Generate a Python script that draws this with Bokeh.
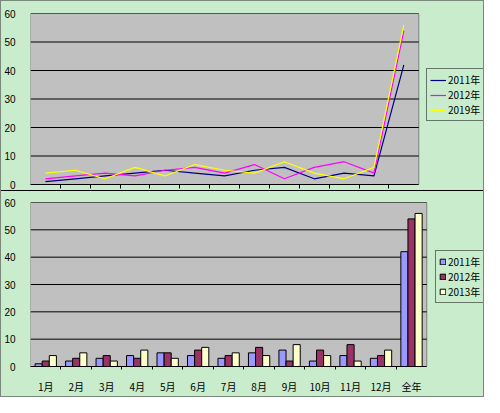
from bokeh.plotting import figure
from bokeh.models import Range1d, FixedTicker, Legend, LegendItem
from bokeh.layouts import column
from bokeh.embed import file_html
from bokeh.resources import INLINE

# ---- data ----
months = ["1月", "2月", "3月", "4月", "5月", "6月", "7月", "8月", "9月", "10月", "11月", "12月", "全年"]
s2011 = [1, 2, 3, 4, 5, 4, 3, 5, 6, 2, 4, 3, 42]
s2012 = [2, 3, 4, 3, 5, 6, 4, 7, 2, 6, 8, 4, 54]
s2013 = [4, 5, 2, 6, 3, 7, 5, 4, 8, 4, 2, 6, 56]
line_labels = ["2011年", "2012年", "2019年"]
bar_labels = ["2011年", "2012年", "2013年"]
y_ticks = [0, 10, 20, 30, 40, 50, 60]

BG = "#C8ECCC"
PLOT_BG = "#C0C0C0"
CJK = "Noto Sans CJK SC"
n = len(months)
y_max = y_ticks[-1]
centers = [i + 0.5 for i in range(n)]
bounds = list(range(1, n))
FIG_W = 482
LEFT = 27


def base(height, mt, mb, data_w):
    frame_w = FIG_W - LEFT
    x_max = n * frame_w / data_w
    p = figure(width=FIG_W, height=height, output_backend="svg", toolbar_location=None,
               x_range=Range1d(0, x_max), y_range=Range1d(0, y_max),
               min_border_left=LEFT, min_border_right=0,
               min_border_top=mt, min_border_bottom=mb)
    p.border_fill_color = BG
    p.background_fill_color = BG
    p.outline_line_color = None
    # grey plot area covering the category span
    p.quad(left=0, right=n, bottom=0, top=y_max, fill_color=PLOT_BG,
           line_color="#808080", line_width=1, level="image")
    # horizontal gridlines limited to the category span
    p.segment(x0=[0] * len(y_ticks), x1=[n] * len(y_ticks), y0=y_ticks, y1=y_ticks,
              line_color="black", line_width=1, level="underlay")
    p.xgrid.visible = False
    p.ygrid.visible = False
    p.yaxis.ticker = FixedTicker(ticks=y_ticks)
    p.yaxis.axis_line_color = None
    p.yaxis.major_tick_line_color = None
    p.yaxis.minor_tick_line_color = None
    p.yaxis.major_label_standoff = 9
    p.yaxis.major_label_text_font = "Liberation Sans"
    p.yaxis.major_label_text_font_size = "10px"
    p.yaxis.major_label_text_color = "#000000"
    p.xaxis.bounds = (0, n)
    p.xaxis.axis_line_color = "black"
    p.xaxis.axis_line_width = 1
    return p


def style_legend(lg, loc, gw, gh):
    lg.location = loc
    lg.border_line_color = "black"
    lg.border_line_width = 1
    lg.background_fill_color = BG
    lg.background_fill_alpha = 1
    lg.padding = 3
    lg.spacing = 0
    lg.margin = 0
    lg.glyph_width = gw
    lg.glyph_height = gh
    lg.label_height = 12
    lg.label_standoff = 2
    lg.label_text_font = CJK
    lg.label_text_font_size = "10px"
    lg.label_text_color = "#000000"


# ---- top: line chart ----
p1 = base(190, 12, 7, 390)
line_colors = ["#000080", "#FF00FF", "#FFFF00"]
items1 = []
for vals, col, lab in zip([s2011, s2012, s2013], line_colors, line_labels):
    r = p1.line(centers, vals, line_color=col, line_width=1.2)
    items1.append(LegendItem(label=lab, renderers=[r]))
p1.xaxis.ticker = FixedTicker(ticks=bounds)
p1.xaxis.major_label_overrides = {b: "" for b in bounds}
p1.xaxis.major_label_text_font_size = "4px"
p1.xaxis.major_label_standoff = 0
p1.xaxis.major_tick_out = 4
p1.xaxis.major_tick_in = 0
p1.xaxis.major_tick_line_color = "black"
p1.xaxis.minor_tick_line_color = None

lg1 = Legend(items=items1)
style_legend(lg1, (396, 63), 16, 12)
p1.add_layout(lg1, "center")
p1.styles = {"border-bottom": "1px solid #000000"}

# ---- bottom: bar chart ----
p2 = base(205, 11, 26, 398)
bar_colors = ["#9999FF", "#993366", "#FFFFCC"]
bw = 0.233
items2 = []
for k, (vals, col, lab) in enumerate(zip([s2011, s2012, s2013], bar_colors, bar_labels)):
    xs = [c + (k - 1) * bw for c in centers]
    r = p2.vbar(x=xs, top=vals, bottom=0, width=bw, fill_color=col,
                line_color="black", line_width=1)
    items2.append(LegendItem(label=lab, renderers=[r]))
p2.xaxis.ticker = FixedTicker(ticks=centers, minor_ticks=bounds)
p2.xaxis.major_label_overrides = {c: m for c, m in zip(centers, months)}
p2.xaxis.major_label_text_font = CJK
p2.xaxis.major_label_text_font_size = "10px"
p2.xaxis.major_label_text_color = "#000000"
p2.xaxis.major_label_standoff = 9
p2.xaxis.major_tick_out = 0
p2.xaxis.major_tick_in = 0
p2.xaxis.minor_tick_out = 3
p2.xaxis.minor_tick_in = 0
p2.xaxis.minor_tick_line_color = "black"

lg2 = Legend(items=items2)
style_legend(lg2, (405, 63), 7, 7)
p2.add_layout(lg2, "center")

layout = column(p1, p2, spacing=0,
                styles={"border": "1px solid #7A8A7A", "background-color": BG})

open("out.html", "w").write(file_html(layout, INLINE))
